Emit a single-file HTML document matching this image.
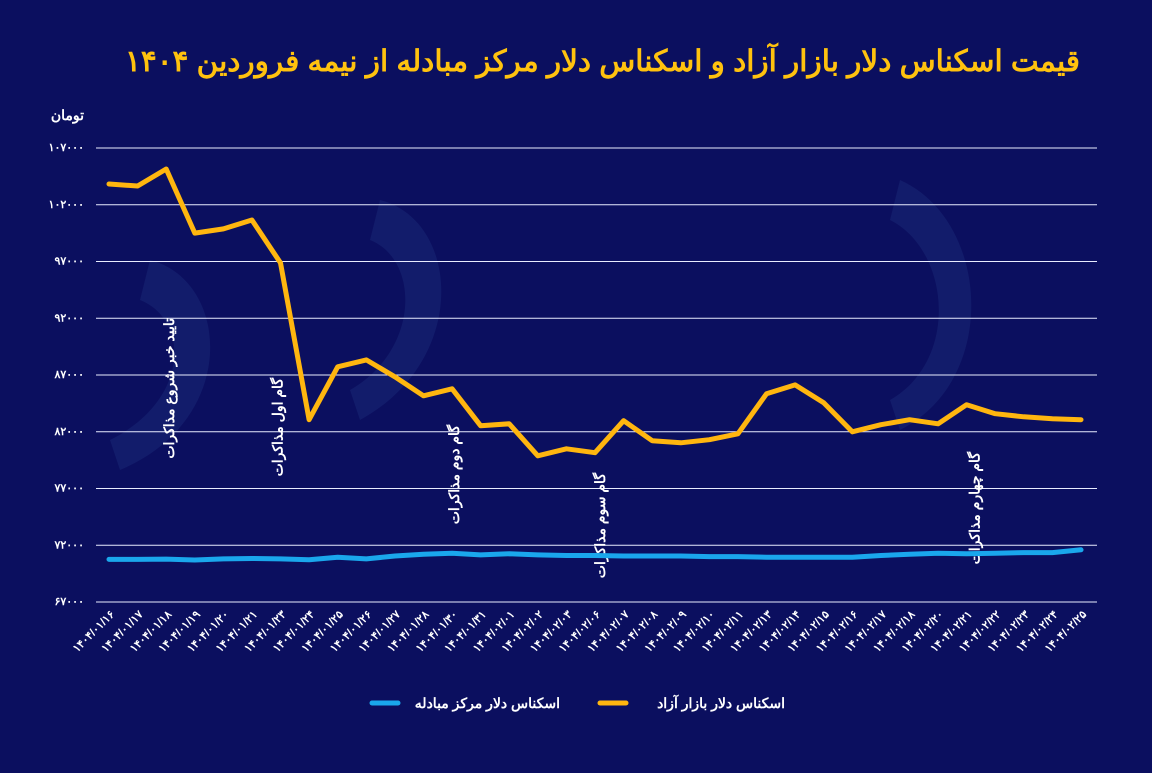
<!DOCTYPE html>
<html><head><meta charset="utf-8">
<style>
html,body{margin:0;padding:0;background:#0b0f5f;}
body{width:1152px;height:768px;overflow:hidden;font-family:"Liberation Sans","Noto Sans CJK SC",sans-serif;}
</style></head>
<body>
<svg id="chart" width="1152" height="768" xmlns="http://www.w3.org/2000/svg">
<rect width="1152" height="768" fill="#0b0f5f"/>
<g opacity="0.10" fill="#5b8fd6">
<path d="M150 260 C 230 280, 240 420, 120 470 L 110 440 C 190 400, 190 320, 140 300 Z"/>
<path d="M380 200 C 460 220, 470 360, 360 420 L 350 390 C 420 350, 420 260, 370 240 Z"/>
<path d="M900 180 C 990 220, 1000 380, 900 430 L 890 400 C 960 360, 950 250, 890 220 Z"/>
</g>
<text x="1080" y="71" fill="#ffc20e" font-size="29.5" font-weight="bold" text-anchor="start" direction="rtl" textLength="955" lengthAdjust="spacingAndGlyphs">قیمت اسکناس دلار بازار آزاد و اسکناس دلار مرکز مبادله از نیمه فروردین ۱۴۰۴</text>
<text x="84" y="120" fill="#ffffff" font-size="14" font-weight="bold" text-anchor="start" direction="rtl">تومان</text>
<g id="grid"></g><g id="ylabels"></g><g id="xlabels"></g><g id="notes"></g><g id="lines"></g>
<g>
<line x1="372" y1="703" x2="398" y2="703" stroke="#1aa7ec" stroke-width="5" stroke-linecap="round"/>
<text x="560" y="708" fill="#fff" font-size="14" font-weight="bold" text-anchor="start" direction="rtl">اسکناس دلار مرکز مبادله</text>
<line x1="600" y1="703" x2="626" y2="703" stroke="#ffb60f" stroke-width="5" stroke-linecap="round"/>
<text x="785" y="708" fill="#fff" font-size="14" font-weight="bold" text-anchor="start" direction="rtl">اسکناس دلار بازار آزاد</text>
</g>
</svg>
<script>
const categories=["۱۴۰۴/۰۱/۱۶","۱۴۰۴/۰۱/۱۷","۱۴۰۴/۰۱/۱۸","۱۴۰۴/۰۱/۱۹","۱۴۰۴/۰۱/۲۰","۱۴۰۴/۰۱/۲۱","۱۴۰۴/۰۱/۲۳","۱۴۰۴/۰۱/۲۴","۱۴۰۴/۰۱/۲۵","۱۴۰۴/۰۱/۲۶","۱۴۰۴/۰۱/۲۷","۱۴۰۴/۰۱/۲۸","۱۴۰۴/۰۱/۳۰","۱۴۰۴/۰۱/۳۱","۱۴۰۴/۰۲/۰۱","۱۴۰۴/۰۲/۰۲","۱۴۰۴/۰۲/۰۳","۱۴۰۴/۰۲/۰۶","۱۴۰۴/۰۲/۰۷","۱۴۰۴/۰۲/۰۸","۱۴۰۴/۰۲/۰۹","۱۴۰۴/۰۲/۱۰","۱۴۰۴/۰۲/۱۱","۱۴۰۴/۰۲/۱۳","۱۴۰۴/۰۲/۱۴","۱۴۰۴/۰۲/۱۵","۱۴۰۴/۰۲/۱۶","۱۴۰۴/۰۲/۱۷","۱۴۰۴/۰۲/۱۸","۱۴۰۴/۰۲/۲۰","۱۴۰۴/۰۲/۲۱","۱۴۰۴/۰۲/۲۲","۱۴۰۴/۰۲/۲۳","۱۴۰۴/۰۲/۲۴","۱۴۰۴/۰۲/۲۵"];
const freeMarket=[103830,103650,105150,99500,99870,100660,96880,83060,87720,88330,86840,85170,85780,82530,82700,79880,80500,80150,82970,81210,81030,81300,81820,85340,86130,84550,82000,82620,83060,82700,84380,83590,83320,83150,83060];
const exchange=[70750,70750,70780,70700,70800,70830,70800,70720,70950,70800,71050,71200,71300,71150,71250,71150,71100,71100,71050,71050,71050,71000,71000,70950,70950,70950,70950,71100,71200,71300,71250,71300,71350,71350,71600];
const yTicks=[67000,72000,77000,82000,87000,92000,97000,102000,107000];
const yTickLabels=["۶۷۰۰۰","۷۲۰۰۰","۷۷۰۰۰","۸۲۰۰۰","۸۷۰۰۰","۹۲۰۰۰","۹۷۰۰۰","۱۰۲۰۰۰","۱۰۷۰۰۰"];
const noteIdx=[2,6,12,17,30];
const noteText=["تایید خبر شروع مذاکرات","گام اول مذاکرات","گام دوم مذاکرات","گام سوم مذاکرات","گام چهارم مذاکرات"];

const NS="http://www.w3.org/2000/svg";
const X0=109,X1=1081,Y0=602,Y1=148,VMIN=67000,VMAX=107000;
const x=i=>X0+(X1-X0)*i/(categories.length-1);
const y=v=>Y0-(v-VMIN)/(VMAX-VMIN)*(Y0-Y1);
function mk(tag,attrs,parent){const e=document.createElementNS(NS,tag);for(const k in attrs)e.setAttribute(k,attrs[k]);document.getElementById(parent).appendChild(e);return e;}
yTicks.forEach((t,i)=>{
 const l=mk("line",{x1:96,x2:1097,y1:y(t),y2:y(t),stroke:"#e8ecff","stroke-width":1},"grid");
 
 
 const tx=mk("text",{x:84,y:y(t)+3,fill:"#fff","font-size":11,"font-weight":"bold","text-anchor":"end"},"ylabels");
 tx.textContent=yTickLabels[i];
 
 
});
categories.forEach((c,i)=>{
 const tx=mk("text",{transform:`translate(${x(i)+6},${615}) rotate(-45)`,fill:"#fff","font-size":11,"font-weight":"bold","text-anchor":"end"},"xlabels");
 tx.textContent=c;
 
 
});
const noteTop=[318,378,425,473,452];
const noteDx=[1,-5,0,3,6];
noteIdx.forEach((n,k)=>{
 const tx=mk("text",{transform:`translate(${x(n)+noteDx[k]+7},${noteTop[k]}) rotate(-90)`,fill:"#fff","font-size":14,"font-weight":"bold","text-anchor":"end",direction:"ltr"},"notes");
 tx.textContent=noteText[k];
 
 
});
function path(arr,color,name){
 const d=arr.map((v,i)=>(i?"L":"M")+x(i).toFixed(1)+","+y(v).toFixed(1)).join(" ");
 const p=mk("path",{d:d,fill:"none",stroke:color,"stroke-width":5,"stroke-linecap":"round","stroke-linejoin":"round"},"lines");
 
 
}
path(exchange,"#1aa7ec","exchange-line");
path(freeMarket,"#ffb60f","free-market-line");
</script>
</body></html>
